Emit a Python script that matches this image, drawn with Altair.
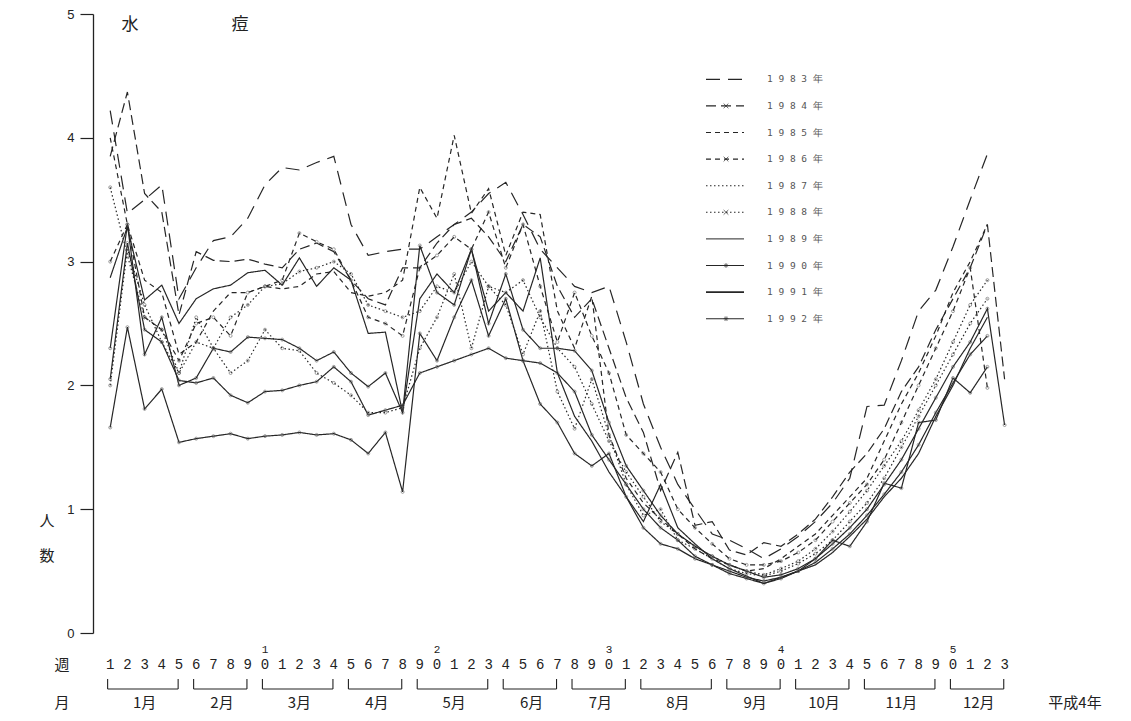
import altair as alt
import pandas as pd

# ---------------- data ----------------
weeks = list(range(1, 54))
years = ["1983年", "1984年", "1985年", "1986年", "1987年",
         "1988年", "1989年", "1990年", "1991年", "1992年"]

s1983 = [4.22, 3.39, 3.5, 3.62, 2.7, 2.95, 3.17, 3.2, 3.35, 3.62, 3.76, 3.74, 3.8, 3.85, 3.3, 3.05, 3.08, 3.1,
         3.1, 3.2, 3.3, 3.4, 3.55, 3.64, 3.38, 3.1, 2.95, 2.8, 2.75, 2.8, 2.35, 1.85, 1.5, 1.2, 1.0, 0.8,
         0.75, 0.68, 0.6, 0.68, 0.78, 0.9, 1.05, 1.25, 1.83, 1.84, 2.2, 2.6, 2.77, 3.12, 3.5, 3.87, None]
s1984 = [3.85, 4.37, 3.55, 3.4, 2.57, 3.08, 3.01, 3.0, 3.02, 2.98, 2.95, 3.1, 3.15, 3.08, 2.85, 2.7, 2.65, 2.95,
         2.95, 3.15, 3.3, 3.35, 3.2, 3.0, 3.3, 3.2, 2.8, 2.55, 2.7, 2.3, 1.9, 1.62, 1.15, 1.46, 0.87, 0.9,
         0.67, 0.63, 0.73, 0.7, 0.8, 0.92, 1.1, 1.3, 1.45, 1.65, 1.95, 2.15, 2.45, 2.7, 2.95, 3.3, 2.05]
s1985 = [4.0, 3.3, 2.85, 2.75, 2.25, 2.35, 2.6, 2.75, 2.75, 2.8, 2.78, 2.8, 2.9, 2.92, 2.75, 2.72, 2.75, 2.85,
         3.6, 3.35, 4.02, 3.39, 3.59, 3.05, 3.4, 3.38, 2.6, 2.3, 2.72, 1.6, 1.25, 1.05, 0.92, 0.8, 0.68, 0.6,
         0.55, 0.5, 0.52, 0.6, 0.7, 0.8, 0.95, 1.1, 1.25, 1.55, 1.85, 2.1, 2.4, 2.75, 3.0, 3.3, None]
s1986 = [3.0, 3.3, 2.55, 2.45, 2.2, 2.5, 2.55, 2.4, 2.75, 2.8, 2.85, 3.23, 3.16, 3.1, 2.85, 2.55, 2.5, 2.4,
         2.95, 3.05, 3.2, 3.1, 3.4, 2.95, 3.3, 2.8, 2.35, 2.75, 2.4, 2.1, 1.6, 1.45, 1.3, 1.0, 0.85, 0.72,
         0.6, 0.55, 0.55, 0.58, 0.65, 0.75, 0.9, 1.05, 1.2, 1.4, 1.7, 2.0, 2.3, 2.6, 2.95, 1.98, None]
s1987 = [3.6, 3.05, 2.55, 2.45, 2.1, 2.35, 2.3, 2.55, 2.65, 2.8, 2.82, 2.92, 2.95, 3.0, 2.9, 2.65, 2.6, 2.55,
         2.6, 2.8, 2.75, 3.0, 2.8, 2.75, 2.85, 2.55, 2.3, 2.15, 1.85, 1.55, 1.3, 1.1, 0.9, 0.8, 0.7, 0.62,
         0.55, 0.5, 0.47, 0.52, 0.58, 0.68, 0.82, 0.98, 1.15, 1.35, 1.55, 1.8, 2.05, 2.35, 2.65, 2.85, None]
s1988 = [2.0, 3.1, 2.65, 2.35, 2.1, 2.55, 2.3, 2.1, 2.2, 2.45, 2.3, 2.28, 2.1, 2.02, 1.92, 1.78, 1.78, 1.82,
         2.3, 2.55, 2.9, 2.3, 2.8, 2.65, 2.25, 2.6, 1.95, 1.65, 2.05, 1.6, 1.2, 0.95, 1.0, 0.75, 0.68, 0.6,
         0.52, 0.48, 0.46, 0.5, 0.56, 0.64, 0.75, 0.9, 1.05, 1.25, 1.5, 1.75, 2.0, 2.25, 2.5, 2.7, None]
s1989 = [2.05, 3.15, 2.45, 2.35, 2.04, 2.02, 2.06, 1.92, 1.86, 1.95, 1.96, 2.0, 2.03, 2.15, 2.03, 1.76, 1.8, 1.84,
         2.1, 2.15, 2.2, 2.25, 2.3, 2.22, 2.2, 2.18, 2.1, 1.95, 1.6, 1.4, 1.2, 1.0, 0.85, 0.75, 0.62, 0.55,
         0.5, 0.45, 0.42, 0.45, 0.5, 0.57, 0.68, 0.8, 0.95, 1.12, 1.3, 1.52, 1.78, 2.02, 2.25, 2.4, None]
s1990 = [2.3, 3.3, 2.25, 2.55, 2.0, 2.06, 2.3, 2.27, 2.39, 2.38, 2.37, 2.3, 2.2, 2.27, 2.1, 1.99, 2.1, 1.78,
         3.13, 2.75, 2.65, 3.1, 2.5, 2.9, 2.45, 2.3, 2.3, 2.28, 2.12, 1.7, 1.35, 1.15, 0.95, 0.8, 0.7, 0.62,
         0.55, 0.5, 0.45, 0.47, 0.52, 0.6, 0.72, 0.85, 1.0, 1.2, 1.4, 1.65, 1.9, 2.15, 2.35, 2.62, 1.68]
s1991 = [2.87, 3.28, 2.69, 2.81, 2.5, 2.7, 2.78, 2.81, 2.91, 2.93, 2.81, 3.03, 2.8, 2.95, 2.85, 2.42, 2.43, 1.78,
         2.7, 2.9, 2.75, 3.1, 2.6, 2.75, 2.6, 3.03, 2.1, 1.75, 1.55, 1.3, 1.1, 0.9, 1.2, 0.85, 0.72, 0.6,
         0.52, 0.46, 0.4, 0.45, 0.5, 0.55, 0.65, 0.78, 0.92, 1.1, 1.25, 1.45, 1.75, 2.0, 2.3, 2.55, None]
s1992 = [1.66, 2.47, 1.81, 1.97, 1.54, 1.57, 1.59, 1.61, 1.57, 1.59, 1.6, 1.62, 1.6, 1.61, 1.56, 1.45, 1.62, 1.14,
         2.42, 2.2, 2.55, 2.85, 2.4, 2.7, 2.2, 1.85, 1.7, 1.45, 1.35, 1.45, 1.1, 0.85, 0.72, 0.68, 0.6, 0.55,
         0.48, 0.44, 0.4, 0.44, 0.5, 0.6, 0.75, 0.7, 0.9, 1.21, 1.17, 1.7, 1.72, 2.06, 1.94, 2.15, None]

series = [s1983, s1984, s1985, s1986, s1987, s1988, s1989, s1990, s1991, s1992]

month_names = ["1月", "2月", "3月", "4月", "5月", "6月", "7月", "8月", "9月", "10月", "11月", "12月"]
month_start = [1, 6, 10, 15, 19, 24, 28, 32, 37, 41, 45, 50]
month_end = [5, 9, 14, 18, 23, 27, 31, 36, 40, 44, 49, 53]

# ---------------- styles ----------------
INK = "#262626"
dashes = [[14, 8], [10, 5], [5, 4], [5, 4], [1.5, 2.5], [1.5, 2.5], [1, 0], [1, 0], [1, 0], [1, 0]]
widths = [1.2, 1.2, 1.1, 1.1, 1.1, 1.1, 1.0, 1.1, 1.7, 1.1]
markers = [None, "x", None, "x", None, "x", "o", "*", None, "*"]
circle_years = ["1986年", "1987年", "1988年", "1989年", "1990年", "1992年"]

XPATH = "M-1,-1L1,1M-1,1L1,-1"
STARPATH = "M-1,0L1,0M0,-1L0,1M-0.7,-0.7L0.7,0.7M-0.7,0.7L0.7,-0.7"

rows = []
for yr, vals in zip(years, series):
    for w, v in zip(weeks, vals):
        if v is not None:
            rows.append({"year": yr, "week": w, "value": v})
df = pd.DataFrame(rows)

W, H = 1015, 619
PX_PER_WEEK = 17.2
XMAX = W / PX_PER_WEEK

xscale = alt.Scale(domain=[0, XMAX], nice=False, zero=False)
yscale = alt.Scale(domain=[0, 5], nice=False)

lines = alt.Chart(df).mark_line(color=INK, strokeJoin="miter").encode(
    x=alt.X("week:Q", scale=xscale, axis=None),
    y=alt.Y("value:Q", scale=yscale,
            axis=alt.Axis(values=[0, 1, 2, 3, 4, 5], format="d", tickSize=13, labelPadding=6,
                          labelFontSize=13, labelFont="Liberation Sans", labelColor="#222",
                          domainColor="#222", tickColor="#222", domainWidth=1.3, tickWidth=1.2,
                          grid=False, title=None, labelBaseline="middle")),
    detail="year:N",
    strokeDash=alt.StrokeDash("year:N", scale=alt.Scale(domain=years, range=dashes), legend=None),
    strokeWidth=alt.StrokeWidth("year:O", scale=alt.Scale(domain=years, range=widths), legend=None),
    order="week:Q",
)

pts = alt.Chart(df).transform_filter(
    alt.FieldOneOfPredicate(field="year", oneOf=circle_years)
).mark_point(shape="circle", size=9, filled=False, color="#555", strokeWidth=0.8).encode(
    x=alt.X("week:Q", scale=xscale, axis=None),
    y=alt.Y("value:Q", scale=yscale),
)

layers = [lines, pts]

# ---------------- week labels & month brackets ----------------
wk = pd.DataFrame({"week": weeks,
                   "digit": [str(w % 10) for w in weeks],
                   "tens": [str(w // 10) if w % 10 == 0 else "" for w in weeks]})
layers.append(alt.Chart(wk).mark_text(fontSize=14, font="Liberation Mono", color="#222",
                                      baseline="middle").encode(
    x=alt.X("week:Q", scale=xscale), y=alt.value(651), text="digit:N"))
layers.append(alt.Chart(wk).transform_filter("datum.tens != ''").mark_text(
    fontSize=11, font="Liberation Mono", color="#222", baseline="middle").encode(
    x=alt.X("week:Q", scale=xscale), y=alt.value(636), text="tens:N"))

mdf = pd.DataFrame({"m": month_names, "s": month_start, "e": month_end})
mdf["s2"] = mdf["s"] - 0.15
mdf["e2"] = mdf["e"] - 0.05
mdf["mid"] = (mdf["s"] + mdf["e"]) / 2.0
layers.append(alt.Chart(mdf).mark_rule(color="#222", strokeWidth=1.1).encode(
    x=alt.X("s2:Q", scale=xscale), x2="e2:Q", y=alt.value(675)))
layers.append(alt.Chart(mdf).mark_rule(color="#222", strokeWidth=1.1).encode(
    x=alt.X("s2:Q", scale=xscale), y=alt.value(665), y2=alt.value(675)))
layers.append(alt.Chart(mdf).mark_rule(color="#222", strokeWidth=1.1).encode(
    x=alt.X("e2:Q", scale=xscale), y=alt.value(665), y2=alt.value(675)))
layers.append(alt.Chart(mdf).mark_text(fontSize=15, font="Noto Sans CJK JP", color="#222",
                                       baseline="middle").encode(
    x=alt.X("mid:Q", scale=xscale), y=alt.value(689), text="m:N"))

# ---------------- annotation texts ----------------
def label(txt, x, y, size=15, align="center", font="Noto Sans CJK JP", color="#222"):
    return alt.Chart(pd.DataFrame({"t": [txt]})).mark_text(
        fontSize=size, font=font, color=color, align=align, baseline="middle").encode(
        x=alt.value(x), y=alt.value(y), text="t:N")

layers += [
    label("水", 37, 11, size=17),
    label("痘", 147, 11, size=17),
    label("人", -46, 507, size=15),
    label("数", -46, 542, size=15),
    label("週", -31, 651, size=15),
    label("月", -31, 689, size=15),
    label("平成4年", 982, 689, size=15),
]

# ---------------- hand-drawn legend ----------------
for i, yr in enumerate(years):
    yy = 79.3 + 26.6 * i - 14
    rule_kwargs = dict(color=INK, strokeWidth=widths[i])
    if dashes[i] != [1, 0]:
        rule_kwargs["strokeDash"] = dashes[i]
    layers.append(alt.Chart(pd.DataFrame({"a": [0]})).mark_rule(**rule_kwargs).encode(
        x=alt.value(613), x2=alt.value(651), y=alt.value(yy)))
    if markers[i] in ("x", "*"):
        shp = XPATH if markers[i] == "x" else STARPATH
        layers.append(alt.Chart(pd.DataFrame({"a": [0]})).mark_point(
            shape=shp, size=22, color=INK, strokeWidth=1, filled=False).encode(
            x=alt.value(633), y=alt.value(yy)))
    spaced = " ".join(list(yr))
    layers.append(label(spaced, 674, yy, size=9.5, align="left",
                        font="DejaVu Sans Mono", color="#555"))

chart = alt.layer(*layers).properties(
    width=W, height=H,
    autosize=alt.AutoSizeParams(type="none"),
    padding={"left": 85, "top": 6, "right": 15, "bottom": 80},
).configure_view(stroke=None)

chart.save("out.html", embed_options={"renderer": "svg", "actions": False})
